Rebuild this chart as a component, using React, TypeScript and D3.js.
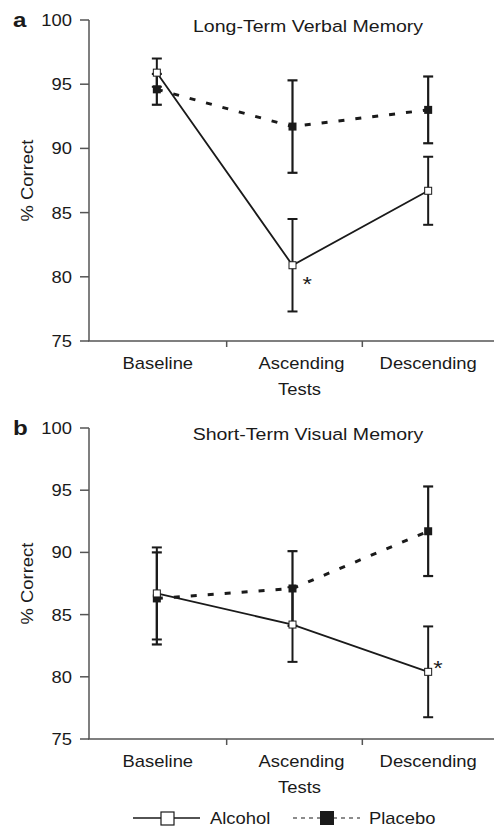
import React from "react";
import { scaleLinear, line } from "d3";

// categories and tick labels
const categories = ["Baseline", "Ascending", "Descending"];
const yTicks = [75, 80, 85, 90, 95, 100];

// panel a: long-term verbal memory
const verbalAlcohol = [95.9, 80.9, 86.7];
const verbalAlcoholErr = [1.1, 3.6, 2.65];
const verbalPlacebo = [94.6, 91.7, 93.0];
const verbalPlaceboErr = [1.2, 3.6, 2.6];

// panel b: short-term visual memory
const visualAlcohol = [86.7, 84.2, 80.4];
const visualAlcoholErr = [3.7, 3.0, 3.65];
const visualPlacebo = [86.3, 87.1, 91.7];
const visualPlaceboErr = [3.7, 3.0, 3.6];

const W = 494;
const H = 827;
const FONT = "'Liberation Sans', Arial, Helvetica, sans-serif";
const INK = "#1a1a1a";
const AXIS = "#555";
const STRETCH = 1.15; // reference glyphs are wider than tall

// text with a horizontal stretch along its own direction
const T = ({ x, y, size = 16, anchor = "start", rot = 0, weight = "normal", children }: any) => (
  <text
    transform={`translate(${x},${y}) rotate(${rot}) scale(${STRETCH},1)`}
    fontSize={size}
    fontWeight={weight}
    textAnchor={anchor}
    fill={INK}
    fontFamily={FONT}
  >
    {children}
  </text>
);

type PanelProps = {
  letter: string;
  title: string;
  top: number;
  bottom: number;
  alcohol: number[];
  alcoholErr: number[];
  placebo: number[];
  placeboErr: number[];
  starIndex: number;
  starDx: number;
  starDy: number;
};

const Panel = (p: PanelProps) => {
  const x = scaleLinear().domain([0, 3]).range([89, 496]);
  const y = scaleLinear().domain([75, 100]).range([p.bottom, p.top]);
  const cx = (i: number) => x(i + 0.5);

  const path = line<number>()
    .x((_, i) => cx(i))
    .y((d) => y(d));

  const errBar = (vals: number[], errs: number[], key: string, w: number) =>
    vals.map((v, i) => {
      const xc = cx(i);
      const y1 = y(v + errs[i]);
      const y2 = y(v - errs[i]);
      return (
        <g key={key + i} stroke={INK} strokeWidth={w}>
          <line x1={xc} x2={xc} y1={y1} y2={y2} />
          <line x1={xc - 5} x2={xc + 5} y1={y1} y2={y1} />
          <line x1={xc - 5} x2={xc + 5} y1={y2} y2={y2} />
        </g>
      );
    });

  // category label centres as in the source figure
  const labelX = [cx(0) + 1, cx(1) + 9, cx(2)];

  return (
    <g>
      <T x={13} y={p.top + 7} size={21} weight="bold">{p.letter}</T>
      <T x={308} y={p.top + 12} size={17} anchor="middle">{p.title}</T>

      {/* y axis */}
      <line x1={89} x2={89} y1={p.top} y2={p.bottom} stroke={AXIS} strokeWidth={1.5} />
      {yTicks.map((t) => (
        <g key={t}>
          <line x1={80} x2={89} y1={y(t)} y2={y(t)} stroke={AXIS} strokeWidth={1.5} />
          <T x={72} y={y(t) + 6} anchor="end">{t}</T>
        </g>
      ))}
      <T x={33} y={(p.top + p.bottom) / 2} rot={-90} anchor="middle">% Correct</T>

      {/* x axis */}
      <line x1={88} x2={W} y1={p.bottom} y2={p.bottom} stroke={AXIS} strokeWidth={1.5} />
      {[1, 2].map((t) => (
        <line key={t} x1={x(t) + 2} x2={x(t) + 2} y1={p.bottom} y2={p.bottom + 6} stroke={AXIS} strokeWidth={1.5} />
      ))}
      {categories.map((c, i) => (
        <T key={c} x={labelX[i]} y={p.bottom + 28} anchor="middle">{c}</T>
      ))}
      <T x={labelX[1] - 2} y={p.bottom + 54} anchor="middle">Tests</T>

      {/* error bars */}
      {errBar(p.placebo, p.placeboErr, "pe", 2.2)}
      {errBar(p.alcohol, p.alcoholErr, "ae", 2)}

      {/* lines */}
      <path d={path(p.placebo) || ""} fill="none" stroke={INK} strokeWidth={3} strokeDasharray="6,11" />
      <path d={path(p.alcohol) || ""} fill="none" stroke={INK} strokeWidth={1.8} />

      {/* markers */}
      {p.placebo.map((v, i) => (
        <rect key={"pm" + i} x={cx(i) - 4} y={y(v) - 4} width={8} height={8} fill={INK} />
      ))}
      {p.alcohol.map((v, i) => (
        <rect key={"am" + i} x={cx(i) - 3.5} y={y(v) - 3.5} width={7} height={7} fill="#fff" stroke={INK} strokeWidth={1} />
      ))}

      <T x={cx(p.starIndex) + p.starDx} y={y(p.alcohol[p.starIndex]) + p.starDy} size={21}>*</T>
    </g>
  );
};

export default function App() {
  return (
    <svg
      width={W}
      height={H}
      style={{ position: "absolute", left: 0, top: 0, background: "#fff" }}
    >
      <Panel
        letter="a"
        title="Long-Term Verbal Memory"
        top={20}
        bottom={341}
        alcohol={verbalAlcohol}
        alcoholErr={verbalAlcoholErr}
        placebo={verbalPlacebo}
        placeboErr={verbalPlaceboErr}
        starIndex={1}
        starDx={10}
        starDy={26}
      />
      <Panel
        letter="b"
        title="Short-Term Visual Memory"
        top={428}
        bottom={739}
        alcohol={visualAlcohol}
        alcoholErr={visualAlcoholErr}
        placebo={visualPlacebo}
        placeboErr={visualPlaceboErr}
        starIndex={2}
        starDx={5}
        starDy={3}
      />

      {/* legend */}
      <line x1={133} x2={200} y1={818} y2={818} stroke={INK} strokeWidth={1.5} />
      <rect x={161} y={812} width={13} height={13} fill="#fff" stroke={INK} strokeWidth={1.2} />
      <T x={210} y={824}>Alcohol</T>
      <line x1={293} x2={360} y1={818} y2={818} stroke={INK} strokeWidth={1.2} strokeDasharray="4,4" />
      <rect x={320} y={811} width={14} height={14} fill={INK} />
      <T x={369} y={824}>Placebo</T>
    </svg>
  );
}
